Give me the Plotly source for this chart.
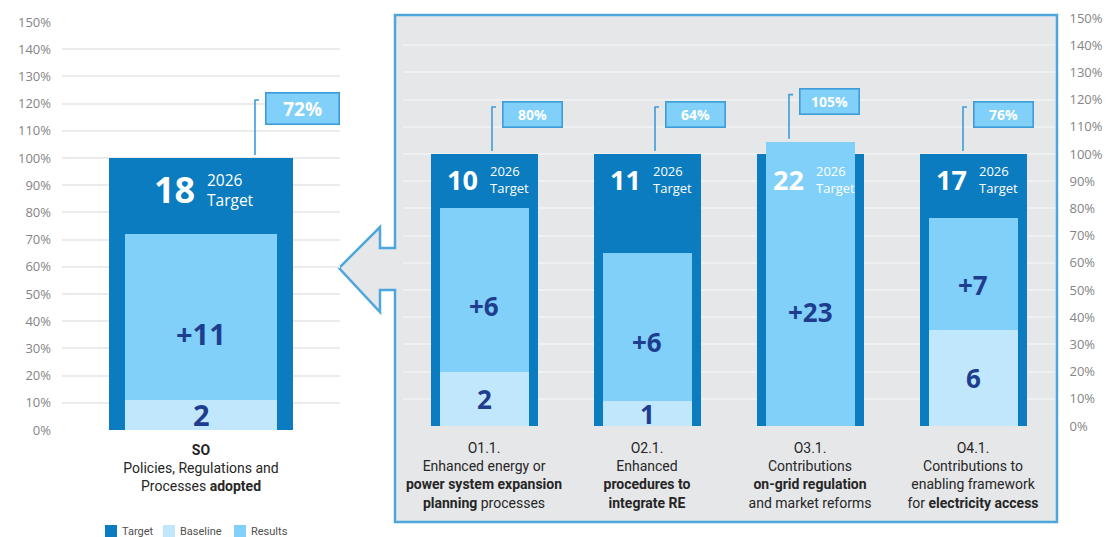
import plotly.graph_objects as go

# ---------------- data ----------------
so_codes = ["SO"]
so_labels = ["<b>SO</b><br>Policies, Regulations and<br>Processes <b>adopted</b>"]
so_target = [18]
so_baseline = [2]
so_results = [11]

out_codes = ["O1.1", "O2.1", "O3.1", "O4.1"]
out_labels = [
    "O1.1.<br>Enhanced energy or<br><b>power system expansion</b><br><b>planning</b> processes",
    "O2.1.<br>Enhanced<br><b>procedures to</b><br><b>integrate RE</b>",
    "O3.1.<br>Contributions<br><b>on-grid regulation</b><br>and market reforms",
    "O4.1.<br>Contributions to<br>enabling framework<br>for <b>electricity access</b>",
]
out_target = [10, 11, 22, 17]
out_baseline = [2, 1, 0, 6]
out_results = [6, 6, 23, 7]
out_achieved_pct = [80, 64, 105, 76]
so_achieved_pct = [72]

legend_names = ["Target", "Baseline", "Results"]

pct_ticks = list(range(0, 151, 10))
pct_ticktext = [f"{t}%" for t in pct_ticks]

# ---------------- style ----------------
C_TARGET = "#0b7cc0"
C_BASE = "#c0e7fb"
C_RES = "#80d0fa"
C_NAVY = "#1f3d8f"
C_CALL_BORDER = "#3d9dd8"
C_PANEL = "#e6e7e9"
C_PANEL_BORDER = "#4ea6dc"
TICK_FONT = dict(family="Open Sans", size=13, color="#858585")
CAT_FONT = dict(family="Roboto", size=14, color="#262626")
NUM_FONT = "Open Sans"
W, H = 1110, 537
CALLOUT_DX_SO = [54]
CALLOUT_DX_OUT = [8, 8, -21, -10]
LEGEND_X = [105, 163, 234]   # pixel x of legend swatches
LEGEND_Y = 531


def px_x(p):
    return p / W


def px_y(p):
    return 1 - p / H


def pct(v, t):
    return [a / b * 100 for a, b in zip(v, t)]


fig = go.Figure()
colors = {"Target": C_TARGET, "Baseline": C_BASE, "Results": C_RES}


def add_group(codes, target, baseline, results, xa, ya):
    base_pct = pct(baseline, target)
    res_pct = pct(results, target)
    fig.add_trace(go.Bar(x=codes, y=[100] * len(codes), width=0.66, name="Target",
                         marker=dict(color=C_TARGET, line=dict(width=0)),
                         xaxis=xa, yaxis=ya, showlegend=False, hoverinfo="skip"))
    fig.add_trace(go.Bar(x=codes, y=base_pct, width=0.55, name="Baseline",
                         marker=dict(color=C_BASE, line=dict(width=0)),
                         xaxis=xa, yaxis=ya, showlegend=False, hoverinfo="skip"))
    fig.add_trace(go.Bar(x=codes, y=res_pct, base=base_pct, width=0.55, name="Results",
                         marker=dict(color=C_RES, line=dict(width=0)),
                         xaxis=xa, yaxis=ya, showlegend=False, hoverinfo="skip"))


def add_texts(codes, target, baseline, results, achieved, xr, yr, big, sml, lab,
              dxs, line_len, box_w, box_h, box_font, tgt_shift, txt_dx):
    base_pct = pct(baseline, target)
    res_pct = pct(results, target)
    for i, c in enumerate(codes):
        fig.add_annotation(x=c, y=100, xref=xr, yref=yr, text=f"<b>{target[i]}</b>",
                           showarrow=False, xanchor="right", yanchor="middle",
                           xshift=-txt_dx, yshift=tgt_shift,
                           font=dict(family=NUM_FONT, size=big, color="white"))
        fig.add_annotation(x=c, y=100, xref=xr, yref=yr, text="2026<br>Target",
                           showarrow=False, xanchor="left", yanchor="middle", align="left",
                           xshift=txt_dx, yshift=tgt_shift,
                           font=dict(family=NUM_FONT, size=sml, color="white"))
        if baseline[i] > 0:
            fig.add_annotation(x=c, y=base_pct[i] / 2, xref=xr, yref=yr,
                               text=f"<b>{baseline[i]}</b>", showarrow=False,
                               font=dict(family=NUM_FONT, size=lab, color=C_NAVY))
        fig.add_annotation(x=c, y=base_pct[i] + res_pct[i] * 0.4, xref=xr, yref=yr,
                           text=f"<b>+{results[i]}</b>", showarrow=False,
                           font=dict(family=NUM_FONT, size=lab, color=C_NAVY))
        top = max(100, base_pct[i] + res_pct[i])
        dx = dxs[i]
        fig.add_shape(type="path", xref=xr, yref=yr, xsizemode="pixel", ysizemode="pixel",
                      xanchor=c, yanchor=top,
                      path=f"M {dx},3 L {dx},{3 + line_len} L {dx + 4},{3 + line_len}",
                      line=dict(color=C_CALL_BORDER, width=1.6), layer="above")
        fig.add_annotation(x=c, y=top, xref=xr, yref=yr, text=f"<b>{achieved[i]}%</b>",
                           showarrow=False, xanchor="left", yanchor="middle",
                           xshift=dx + 10, yshift=3 + line_len - box_h * 0.3,
                           width=box_w, height=box_h, borderpad=0,
                           bgcolor=C_RES, bordercolor=C_CALL_BORDER, borderwidth=1.6,
                           font=dict(family=NUM_FONT, size=box_font, color="white"))


add_group(so_codes, so_target, so_baseline, so_results, "x", "y")
add_group(out_codes, out_target, out_baseline, out_results, "x2", "y2")

add_texts(so_codes, so_target, so_baseline, so_results, so_achieved_pct, "x", "y",
          36, 15.5, 29, CALLOUT_DX_SO, 55, 72, 30, 19, -32, 4)
add_texts(out_codes, out_target, out_baseline, out_results, out_achieved_pct, "x2", "y2",
          27, 13, 26, CALLOUT_DX_OUT, 44, 58, 24, 14, -26, 4)

# panel with arrow (paper coords)
pts = [(395, 15), (1057, 15), (1057, 522), (395, 522), (395, 290), (380, 290), (380, 312),
       (339, 268), (380, 227), (380, 248), (395, 248)]
path = "M " + " L ".join(f"{px_x(a):.5f},{px_y(b):.5f}" for a, b in pts) + " Z"
fig.add_shape(type="path", xref="paper", yref="paper", path=path,
              fillcolor=C_PANEL, line=dict(color=C_PANEL_BORDER, width=2.5), layer="below")

# legend (swatch + label)
for name, lx in zip(legend_names, LEGEND_X):
    fig.add_shape(type="rect", xref="paper", yref="paper",
                  x0=px_x(lx), x1=px_x(lx + 12), y0=px_y(LEGEND_Y + 6), y1=px_y(LEGEND_Y - 6),
                  fillcolor=colors[name], line=dict(width=0))
    fig.add_annotation(x=px_x(lx + 15), y=px_y(LEGEND_Y), xref="paper", yref="paper",
                       text=name, showarrow=False, xanchor="left", yanchor="middle",
                       font=dict(family="Roboto", size=11, color="#505050"))

fig.update_layout(
    width=W, height=H, margin=dict(l=0, r=0, t=0, b=0, autoexpand=False),
    paper_bgcolor="white", plot_bgcolor="rgba(0,0,0,0)",
    barmode="overlay", bargap=0, showlegend=False,
    xaxis=dict(domain=[px_x(62), px_x(340)], range=[-0.5, 0.5], tickvals=so_codes,
               ticktext=so_labels, showgrid=False, zeroline=False, showline=False,
               ticks="", tickfont=CAT_FONT, ticklabelstandoff=10, anchor="y"),
    yaxis=dict(domain=[px_y(430), px_y(22)], range=[0, 150], tickvals=pct_ticks,
               ticktext=pct_ticktext, showgrid=True, gridcolor="#ebebeb", gridwidth=1.5,
               zeroline=False, showline=False, ticks="", tickfont=TICK_FONT,
               ticklabelstandoff=10, anchor="x"),
    xaxis2=dict(domain=[px_x(402.5), px_x(1054.5)], range=[-0.5, 3.5], tickvals=out_codes,
                ticktext=out_labels, showgrid=False, zeroline=False, showline=False,
                ticks="", tickfont=CAT_FONT, ticklabelstandoff=12, anchor="y2"),
    yaxis2=dict(domain=[px_y(426), px_y(18)], range=[0, 150], tickvals=pct_ticks,
                ticktext=pct_ticktext, showgrid=True, gridcolor="#eff0f1", gridwidth=1.5,
                zeroline=False, showline=False, ticks="", tickfont=TICK_FONT, side="right",
                ticklabelstandoff=14, anchor="x2"),
)

fig.write_html("out.html", config={"displayModeBar": False},
               post_script="document.body.style.margin='0';")
